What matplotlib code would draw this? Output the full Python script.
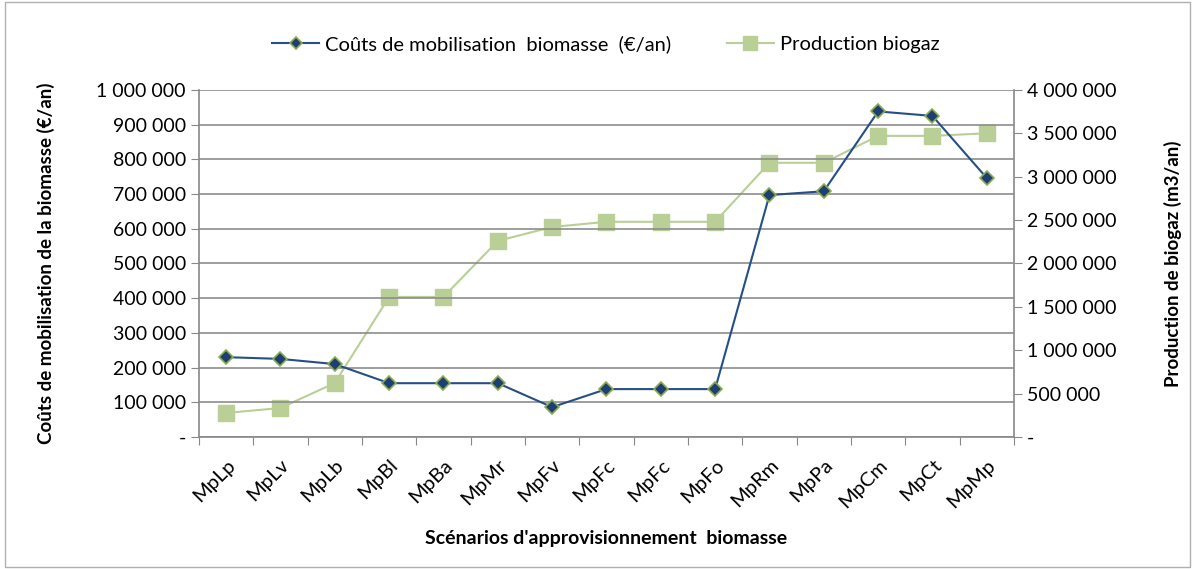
import matplotlib.pyplot as plt
from matplotlib.ticker import FuncFormatter, MultipleLocator
from matplotlib.patches import Rectangle

plt.rcParams['font.family'] = ['Lato', 'DejaVu Sans']

scenarios = ["MpLp", "MpLv", "MpLb", "MpBl", "MpBa", "MpMr", "MpFv", "MpFc",
             "MpFc", "MpFo", "MpRm", "MpPa", "MpCm", "MpCt", "MpMp"]
couts = [230000, 225000, 210000, 155000, 155000, 155000, 86000, 138000,
         138000, 138000, 697000, 708000, 938000, 925000, 746000]
biogaz = [277000, 334000, 622000, 1614000, 1614000, 2260000, 2420000, 2480000,
          2480000, 2480000, 3160000, 3160000, 3470000, 3470000, 3500000]


def fmt(v, pos):
    if v == 0:
        return "-"
    return f"{int(round(v)):,}".replace(",", " ")


fig = plt.figure(figsize=(11.95, 5.69), dpi=100)
fig.patches.append(Rectangle((0.004, 0.004), 0.992, 0.992, transform=fig.transFigure,
                             fill=False, edgecolor="#b0b0b0", lw=1))
ax = fig.add_axes([0.1665, 0.232, 0.682, 0.610])
ax2 = ax.twinx()

x = range(len(scenarios))
ax2.plot(x, biogaz, color="#b9cf96", lw=1.5, marker="s", ms=11,
         mfc="#b9cf96", mec="#b9cf96", label="Production biogaz", zorder=2)
ax2.set_zorder(1)
ax.set_zorder(2)
ax.patch.set_visible(False)
ax.plot(x, couts, color="#254f85", lw=1.5, marker="D", ms=7,
        mfc="#1f3f73", mec="#8aad4f", mew=1.2, zorder=3,
        label="Coûts de mobilisation  biomasse  (€/an)")

ax.set_xlim(-0.5, len(scenarios) - 0.5)
ax.set_ylim(0, 1000000)
ax2.set_ylim(0, 4000000)
ax.yaxis.set_major_locator(MultipleLocator(100000))
ax2.yaxis.set_major_locator(MultipleLocator(500000))
ax.yaxis.set_major_formatter(FuncFormatter(fmt))
ax2.yaxis.set_major_formatter(FuncFormatter(fmt))

ax.set_xticks([i - 0.5 for i in range(len(scenarios) + 1)])
ax.set_xticklabels([])
ax.set_xticks(list(x), minor=True)
ax.set_xticklabels(scenarios, minor=True, rotation=45, ha="right",
                   rotation_mode="anchor", fontsize=14.5)
ax.tick_params(axis="x", which="minor", length=0, pad=14)
ax.tick_params(axis="x", which="major", length=6, color="#888888", direction="out")
ax.tick_params(axis="y", length=6, color="#888888", labelsize=14)
ax2.tick_params(axis="y", length=6, color="#888888", labelsize=14)

ax.grid(axis="y", color="#8c8c8c", lw=1.2)
for a in (ax, ax2):
    for s in a.spines.values():
        s.set_visible(False)
ax.spines["left"].set_visible(True)
ax.spines["bottom"].set_visible(True)
ax2.spines["right"].set_visible(True)
for s in (ax.spines["left"], ax.spines["bottom"], ax2.spines["right"]):
    s.set_color("#888888")
    s.set_linewidth(1.2)

ax.set_ylabel("Coûts de mobilisation de la biomasse (€/an)", fontsize=13.5,
              fontweight="bold", labelpad=30)
ax2.set_ylabel("Production de biogaz (m3/an)", fontsize=13.5,
               fontweight="bold", labelpad=34)
ax.set_xlabel("Scénarios d'approvisionnement  biomasse", fontsize=14,
              fontweight="bold", labelpad=14)

h1, l1 = ax.get_legend_handles_labels()
h2, l2 = ax2.get_legend_handles_labels()
fig.legend(h1 + h2, l1 + l2, loc="center", bbox_to_anchor=(0.507, 0.922),
           ncol=2, frameon=False, fontsize=14.5, columnspacing=2.8,
           handlelength=2.3, handletextpad=0.3, markerscale=0.9)

fig.savefig("out.png", dpi=100)
